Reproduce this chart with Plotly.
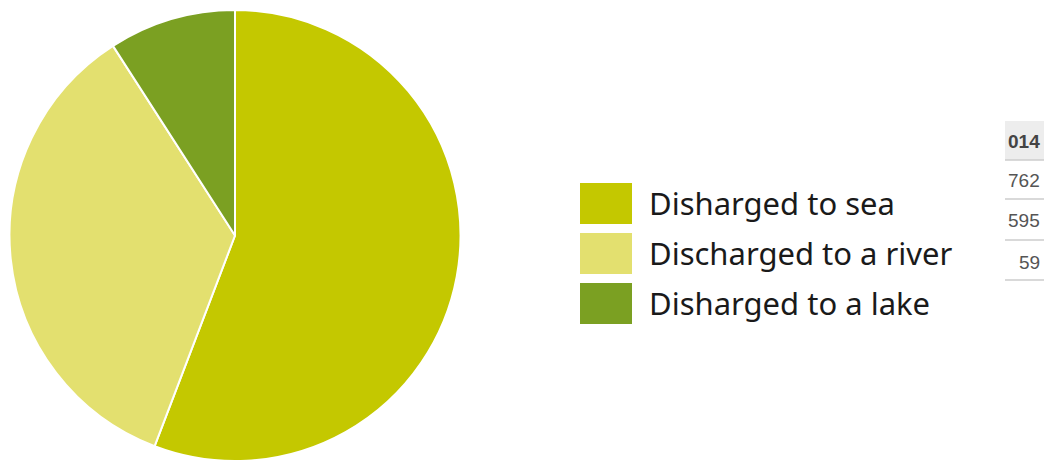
import plotly.graph_objects as go

labels = ["Disharged to sea", "Discharged to a river", "Disharged to a lake"]
values = [55.8, 35.1, 9.1]
colors = ["#C4C800", "#E3E06F", "#7BA022"]

table_header = "014"
table_values = ["762", "595", "59"]

W, H = 1044, 461
T = 10  # top margin
PH = H - T


def py(y):
    """pixel y from top of page -> paper coordinate"""
    return 1 - (y - T) / PH


fig = go.Figure()
fig.add_trace(go.Pie(
    labels=labels,
    values=values,
    marker=dict(colors=colors, line=dict(color="white", width=2)),
    sort=False,
    direction="clockwise",
    rotation=0,
    textinfo="none",
    hoverinfo="label+percent",
    showlegend=False,
    domain=dict(x=[9.5 / W, 460.5 / W], y=[0, 1]),
))

shapes = []
annotations = []
# custom legend
for i, (lab, col) in enumerate(zip(labels, colors)):
    top = 183 + i * 50
    shapes.append(dict(type="rect", xref="paper", yref="paper",
                       x0=580 / W, x1=632 / W,
                       y0=py(top + 41), y1=py(top),
                       fillcolor=col, line=dict(width=0), layer="above"))
    annotations.append(dict(xref="paper", yref="paper", x=647 / W,
                            y=py(top + 20), text=lab, showarrow=False,
                            xanchor="left", yanchor="middle",
                            font=dict(family="Noto Sans", size=31, color="#1a1a1a")))

# partial table at the right edge
shapes.append(dict(type="rect", xref="paper", yref="paper",
                   x0=1005 / W, x1=1, y0=py(160), y1=py(121),
                   fillcolor="#EDEDED", line=dict(width=0)))
for yl in [160, 199, 240, 280]:
    shapes.append(dict(type="line", xref="paper", yref="paper",
                       x0=1005 / W, x1=1, y0=py(yl), y1=py(yl),
                       line=dict(color="#CCCCCC", width=1.5)))
annotations.append(dict(xref="paper", yref="paper", x=1042 / W, y=py(141),
                        text="<b>" + table_header + "</b>", showarrow=False,
                        xanchor="right", yanchor="middle",
                        font=dict(family="Liberation Sans", size=19, color="#444444")))
for j, v in enumerate(table_values):
    annotations.append(dict(xref="paper", yref="paper", x=1042 / W,
                            y=py(180 + j * 41), text=v, showarrow=False,
                            xanchor="right", yanchor="middle",
                            font=dict(family="Liberation Sans", size=19, color="#555555")))

fig.update_layout(
    width=W, height=H,
    margin=dict(l=0, r=0, t=T, b=0),
    paper_bgcolor="white", plot_bgcolor="white",
    shapes=shapes, annotations=annotations,
)

fig.write_html("out.html")
